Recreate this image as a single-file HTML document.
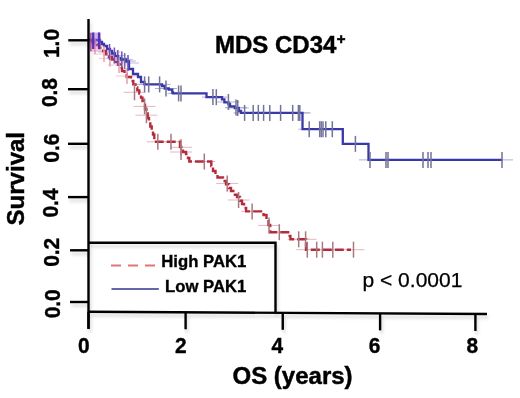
<!DOCTYPE html>
<html><head><meta charset="utf-8"><style>
html,body{margin:0;padding:0;background:#fff;width:520px;height:398px;overflow:hidden;}
svg{display:block;filter:blur(0.35px);}
</style></head><body>
<svg width="520" height="398" viewBox="0 0 520 398">
<defs><filter id="sh" x="-10%" y="-10%" width="120%" height="130%"><feDropShadow dx="1.5" dy="3.5" stdDeviation="1.5" flood-color="#000" flood-opacity="0.15"/></filter></defs>
<rect width="520" height="398" fill="#fff"/>
<path d="M89,242.8 H275.5 V312.5" fill="none" stroke="#000" stroke-width="2.4" filter="url(#sh)"/>
<path d="M111,265.4 H155.3" stroke="#d77" stroke-width="2" stroke-dasharray="10,7"/>
<path d="M111.5,289 H158.8" stroke="#66a" stroke-width="2"/>
<text x="246.3" y="266.6" font-family='"Liberation Sans", sans-serif' font-weight="bold" font-size="16.7" stroke="#000" stroke-width="0.35" text-anchor="end">High PAK1</text>
<text x="246.3" y="291.6" font-family='"Liberation Sans", sans-serif' font-weight="bold" font-size="16.7" stroke="#000" stroke-width="0.35" text-anchor="end">Low PAK1</text>
<text x="362.5" y="287.3" font-family='"Liberation Sans", sans-serif' font-size="21" stroke="#000" stroke-width="0.25">p &lt; 0.0001</text>
<text x="215" y="52.5" font-family='"Liberation Sans", sans-serif' font-weight="bold" font-size="24" stroke="#000" stroke-width="0.45">MDS CD34<tspan font-size="15" dx="0.3" dy="-9" stroke="#000" stroke-width="0.6">+</tspan></text>
<g stroke-width="1" fill="none">
<path d="M123.5,92.3H145.5" stroke="#e2b8c0"/>
<path d="M133.6,106.4H155.6" stroke="#e2b8c0"/>
<path d="M135.4,115.2H157.4" stroke="#e2b8c0"/>
<path d="M146.8,141.8H168.8" stroke="#e2b8c0"/>
<path d="M160,141.8H182" stroke="#e2b8c0"/>
<path d="M170,147.3H192" stroke="#e2b8c0"/>
<path d="M170,152H192" stroke="#e2b8c0"/>
<path d="M193.3,161.5H215.3" stroke="#e2b8c0"/>
<path d="M216.2,183.4H238.2" stroke="#e2b8c0"/>
<path d="M227.6,200H249.6" stroke="#e2b8c0"/>
<path d="M241.1,211.4H263.1" stroke="#e2b8c0"/>
<path d="M258,225.4H280" stroke="#e2b8c0"/>
<path d="M268.3,232.2H290.3" stroke="#e2b8c0"/>
<path d="M287.7,239.3H309.7" stroke="#e2b8c0"/>
<path d="M294.6,239.3H316.6" stroke="#e2b8c0"/>
<path d="M296.3,249.7H318.3" stroke="#e2b8c0"/>
<path d="M305.7,249.7H327.7" stroke="#e2b8c0"/>
<path d="M311.4,249.7H333.4" stroke="#e2b8c0"/>
<path d="M321.8,249.7H343.8" stroke="#e2b8c0"/>
<path d="M342.5,249.7H364.5" stroke="#e2b8c0"/>
<path d="M90,46H106" stroke="#f0c8d0"/>
<path d="M93,54H115" stroke="#f0c8d0"/>
<path d="M99,58.4H121" stroke="#f0c8d0"/>
<path d="M108,65H130" stroke="#f0c8d0"/>
<path d="M116,76H138" stroke="#f0c8d0"/>
<path d="M113.7,61H135.7" stroke="#b0b0cc"/>
<path d="M133.6,84.4H155.6" stroke="#b0b0cc"/>
<path d="M137.7,84.4H159.7" stroke="#b0b0cc"/>
<path d="M148.6,84.4H170.6" stroke="#b0b0cc"/>
<path d="M155,88.5H177" stroke="#b0b0cc"/>
<path d="M167.6,93.4H189.6" stroke="#b0b0cc"/>
<path d="M170,93.4H192" stroke="#b0b0cc"/>
<path d="M201.9,97.1H223.9" stroke="#b0b0cc"/>
<path d="M205.3,97.1H227.3" stroke="#b0b0cc"/>
<path d="M217.4,102H239.4" stroke="#b0b0cc"/>
<path d="M225,107.5H247" stroke="#b0b0cc"/>
<path d="M226.7,108H248.7" stroke="#b0b0cc"/>
<path d="M233.6,112.9H255.6" stroke="#b0b0cc"/>
<path d="M242.2,112.9H264.2" stroke="#b0b0cc"/>
<path d="M247.3,112.9H269.3" stroke="#b0b0cc"/>
<path d="M252.60000000000002,112.9H274.6" stroke="#b0b0cc"/>
<path d="M258.8,112.9H280.8" stroke="#b0b0cc"/>
<path d="M269.6,112.9H291.6" stroke="#b0b0cc"/>
<path d="M281.7,112.9H303.7" stroke="#b0b0cc"/>
<path d="M287.4,112.9H309.4" stroke="#b0b0cc"/>
<path d="M288.8,112.9H310.8" stroke="#b0b0cc"/>
<path d="M298.2,129.2H320.2" stroke="#b0b0cc"/>
<path d="M308.7,129.2H330.7" stroke="#b0b0cc"/>
<path d="M310.2,129.2H332.2" stroke="#b0b0cc"/>
<path d="M312,129.2H334" stroke="#b0b0cc"/>
<path d="M314.8,129.2H336.8" stroke="#b0b0cc"/>
<path d="M321.3,129.2H343.3" stroke="#b0b0cc"/>
<path d="M344.4,143.9H366.4" stroke="#b0b0cc"/>
<path d="M359,159.9H381" stroke="#b0b0cc"/>
<path d="M375,159.9H397" stroke="#b0b0cc"/>
<path d="M377,159.9H399" stroke="#b0b0cc"/>
<path d="M412,159.9H434" stroke="#b0b0cc"/>
<path d="M417,159.9H439" stroke="#b0b0cc"/>
<path d="M420,159.9H442" stroke="#b0b0cc"/>
<path d="M491,159.9H513" stroke="#b0b0cc"/>
<path d="M98.5,52H120.5" stroke="#c8b8e4"/>
<path d="M103.4,55.5H125.4" stroke="#c8b8e4"/>
<path d="M106.8,58H128.8" stroke="#c8b8e4"/>
<path d="M110.8,59.5H132.8" stroke="#c8b8e4"/>
<path d="M117,63H139" stroke="#c8b8e4"/>
</g>
<path d="M88.5,40 H92 V42 H96 V45 H99.6 V48 H103 V51 H106 V54 H109 V57 H112 V59.5 H115 V62 H118 V64.5 H120 V68 H122 V71 H124.5 V74 H126.7 V77 H131 V81 H133.3 V84.4 H135.5 V87.5 H137.3 V90.4 H139.3 V93.5 H141 V97.6 H142.5 V101 H143.7 V104.6 H145 V109 H146.4 V113.4 H147.7 V118 H149 V122.2 H150.3 V126.5 H151.7 V131 H153 V134.5 H154.3 V138 H156 V141.8 H180 V147 H183 V152 H186 V154 H188 V158 H189.3 V161.5 H211.3 V166 H213 V171 H215.5 V174 H217.5 V177.5 H223 V181 H226 V184.2 H229 V188 H231 V191 H233.3 V194.8 H237 V197 H240 V200.8 H242 V204 H244 V208 H246.1 V211.4 H263.5 V215 H266.5 V219 H268.5 V225 H270.2 V232.2 H288 V236 H290.4 V239.3 H306 V249.7 H351" fill="none" stroke="#b42c3c" stroke-width="2.4" stroke-dasharray="9,3"/>
<path d="M88.5,40 H100 V42 H102 V44 H104 V46 H107 V49 H110 V51 H112 V53.5 H115 V56 H118 V58 H121 V59.5 H126 V61.5 H129 V69 H133 V74 H138 V77 H141 V82 H144.5 V84.4 H162 V86.1 H164.8 V88.5 H168.8 V89.6 H172.3 V92.5 H173 V93.4 H206.5 V97.1 H222 V99.4 H224.4 V102.3 H228.4 V104 H230 V106.3 H234.8 V108 H238.8 V111 H241 V112.9 H302.5 V129.2 H342.8 V143.9 H368.5 V159.9 H502.5" fill="none" stroke="#3838aa" stroke-width="2.3"/>
<g stroke-width="1.5" fill="none">
<path d="M134.5,84.3V100.3" stroke="#a87880"/>
<path d="M144.6,98.4V114.4" stroke="#a87880"/>
<path d="M146.4,107.2V123.2" stroke="#a87880"/>
<path d="M157.8,133.8V149.8" stroke="#a87880"/>
<path d="M171,133.8V149.8" stroke="#a87880"/>
<path d="M181,139.3V155.3" stroke="#a87880"/>
<path d="M181,144V160" stroke="#a87880"/>
<path d="M204.3,153.5V169.5" stroke="#a87880"/>
<path d="M227.2,175.4V191.4" stroke="#a87880"/>
<path d="M238.6,192V208" stroke="#a87880"/>
<path d="M252.1,203.4V219.4" stroke="#a87880"/>
<path d="M269,217.4V233.4" stroke="#a87880"/>
<path d="M279.3,224.2V240.2" stroke="#a87880"/>
<path d="M298.7,231.3V247.3" stroke="#a87880"/>
<path d="M305.6,231.3V247.3" stroke="#a87880"/>
<path d="M307.3,241.7V257.7" stroke="#a87880"/>
<path d="M316.7,241.7V257.7" stroke="#a87880"/>
<path d="M322.4,241.7V257.7" stroke="#a87880"/>
<path d="M332.8,241.7V257.7" stroke="#a87880"/>
<path d="M353.5,241.7V257.7" stroke="#a87880"/>
<path d="M95,38V54" stroke="#e0a0b0"/>
<path d="M104,46V62" stroke="#e0a0b0"/>
<path d="M110,50.4V66.4" stroke="#e0a0b0"/>
<path d="M119,57V73" stroke="#e0a0b0"/>
<path d="M127,68V84" stroke="#e0a0b0"/>
<path d="M124.7,53V69" stroke="#72729a"/>
<path d="M144.6,76.4V92.4" stroke="#72729a"/>
<path d="M148.7,76.4V92.4" stroke="#72729a"/>
<path d="M159.6,76.4V92.4" stroke="#72729a"/>
<path d="M166,80.5V96.5" stroke="#72729a"/>
<path d="M178.6,85.4V101.4" stroke="#72729a"/>
<path d="M181,85.4V101.4" stroke="#72729a"/>
<path d="M212.9,89.1V105.1" stroke="#72729a"/>
<path d="M216.3,89.1V105.1" stroke="#72729a"/>
<path d="M228.4,94V110" stroke="#72729a"/>
<path d="M236,99.5V115.5" stroke="#72729a"/>
<path d="M237.7,100V116" stroke="#72729a"/>
<path d="M244.6,104.9V120.9" stroke="#72729a"/>
<path d="M253.2,104.9V120.9" stroke="#72729a"/>
<path d="M258.3,104.9V120.9" stroke="#72729a"/>
<path d="M263.6,104.9V120.9" stroke="#72729a"/>
<path d="M269.8,104.9V120.9" stroke="#72729a"/>
<path d="M280.6,104.9V120.9" stroke="#72729a"/>
<path d="M292.7,104.9V120.9" stroke="#72729a"/>
<path d="M298.4,104.9V120.9" stroke="#72729a"/>
<path d="M299.8,104.9V120.9" stroke="#72729a"/>
<path d="M309.2,121.19999999999999V137.2" stroke="#72729a"/>
<path d="M319.7,121.19999999999999V137.2" stroke="#72729a"/>
<path d="M321.2,121.19999999999999V137.2" stroke="#72729a"/>
<path d="M323,121.19999999999999V137.2" stroke="#72729a"/>
<path d="M325.8,121.19999999999999V137.2" stroke="#72729a"/>
<path d="M332.3,121.19999999999999V137.2" stroke="#72729a"/>
<path d="M355.4,135.9V151.9" stroke="#72729a"/>
<path d="M370,151.9V167.9" stroke="#72729a"/>
<path d="M386,151.9V167.9" stroke="#72729a"/>
<path d="M388,151.9V167.9" stroke="#72729a"/>
<path d="M423,151.9V167.9" stroke="#72729a"/>
<path d="M428,151.9V167.9" stroke="#72729a"/>
<path d="M431,151.9V167.9" stroke="#72729a"/>
<path d="M502,151.9V167.9" stroke="#72729a"/>
<path d="M109.5,44V60" stroke="#7050b8"/>
<path d="M114.4,47.5V63.5" stroke="#7050b8"/>
<path d="M117.8,50V66" stroke="#7050b8"/>
<path d="M121.8,51.5V67.5" stroke="#7050b8"/>
<path d="M128,55V71" stroke="#7050b8"/>
<rect x="89.6" y="32.5" width="11.4" height="12.5" fill="#a060d0" opacity="0.5"/>
<rect x="89.6" y="45" width="11.4" height="7" fill="#e080b8" opacity="0.45"/>
<path d="M90.8,33V51" stroke="#b04aa8" stroke-width="1.6" opacity="0.8"/>
<path d="M93.2,32.5V49" stroke="#5232b8" stroke-width="2.2"/>
<path d="M99,32.5V49" stroke="#5232b8" stroke-width="2.2"/>
</g>
<g stroke="#000" stroke-width="2.4" fill="none" filter="url(#sh)">
<path d="M88.5,19 V329"/>
<path d="M88,311.70 L487,314.00"/>
<path d="M68.3,40.3 H88.5"/>
<path d="M68,89.2 H88.5"/>
<path d="M68,143.8 H88.5"/>
<path d="M68,197.1 H88.5"/>
<path d="M70,250.3 H88.5"/>
<path d="M70,302.0 H88.5"/>
<path d="M88.5,311.70 V328.70"/>
<path d="M185.6,312.26 V329.26"/>
<path d="M282.75,312.82 V329.82"/>
<path d="M380.1,313.38 V330.38"/>
<path d="M475.4,313.93 V330.93"/>
</g>
<text x="0" y="0" transform="translate(58.50,43.5) rotate(-90) scale(0.95,1)" font-family='"Liberation Sans", sans-serif' font-weight="bold" font-size="22" stroke="#000" stroke-width="0.4" text-anchor="middle">1.0</text>
<text x="0" y="0" transform="translate(57.30,92.6) rotate(-90) scale(0.95,1)" font-family='"Liberation Sans", sans-serif' font-weight="bold" font-size="22" stroke="#000" stroke-width="0.4" text-anchor="middle">0.8</text>
<text x="0" y="0" transform="translate(58.50,148.2) rotate(-90) scale(0.95,1)" font-family='"Liberation Sans", sans-serif' font-weight="bold" font-size="22" stroke="#000" stroke-width="0.4" text-anchor="middle">0.6</text>
<text x="0" y="0" transform="translate(58.00,203) rotate(-90) scale(0.95,1)" font-family='"Liberation Sans", sans-serif' font-weight="bold" font-size="22" stroke="#000" stroke-width="0.4" text-anchor="middle">0.4</text>
<text x="0" y="0" transform="translate(59.30,252.3) rotate(-90) scale(0.95,1)" font-family='"Liberation Sans", sans-serif' font-weight="bold" font-size="22" stroke="#000" stroke-width="0.4" text-anchor="middle">0.2</text>
<text x="0" y="0" transform="translate(59.80,303.8) rotate(-90) scale(0.95,1)" font-family='"Liberation Sans", sans-serif' font-weight="bold" font-size="22" stroke="#000" stroke-width="0.4" text-anchor="middle">0.0</text>
<text x="0" y="0" transform="translate(83.75,353.3) scale(0.95,1)" font-family='"Liberation Sans", sans-serif' font-weight="bold" font-size="22" stroke="#000" stroke-width="0.4" text-anchor="middle">0</text>
<text x="0" y="0" transform="translate(180.8,353.3) scale(0.95,1)" font-family='"Liberation Sans", sans-serif' font-weight="bold" font-size="22" stroke="#000" stroke-width="0.4" text-anchor="middle">2</text>
<text x="0" y="0" transform="translate(277.3,353.3) scale(0.95,1)" font-family='"Liberation Sans", sans-serif' font-weight="bold" font-size="22" stroke="#000" stroke-width="0.4" text-anchor="middle">4</text>
<text x="0" y="0" transform="translate(374.6,353.3) scale(0.95,1)" font-family='"Liberation Sans", sans-serif' font-weight="bold" font-size="22" stroke="#000" stroke-width="0.4" text-anchor="middle">6</text>
<text x="0" y="0" transform="translate(472.3,353.3) scale(0.95,1)" font-family='"Liberation Sans", sans-serif' font-weight="bold" font-size="22" stroke="#000" stroke-width="0.4" text-anchor="middle">8</text>
<text x="0" y="0" transform="translate(24.1,178.7) rotate(-90)" font-family='"Liberation Sans", sans-serif' font-weight="bold" font-size="24" stroke="#000" stroke-width="0.45" text-anchor="middle">Survival</text>
<text x="232.5" y="383.8" font-family='"Liberation Sans", sans-serif' font-weight="bold" font-size="24" stroke="#000" stroke-width="0.45">OS (years)</text>
</svg>
</body></html>
